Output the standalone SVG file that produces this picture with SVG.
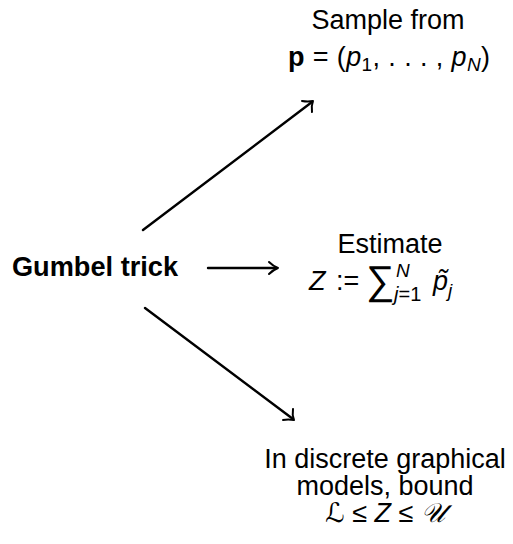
<svg xmlns="http://www.w3.org/2000/svg" width="513" height="544" viewBox="0 0 513 544">
<style>
text{font-family:"Liberation Sans",Arial,sans-serif;font-size:27px;fill:#000}
.m{font-style:italic}
.b{font-weight:bold}
.s{font-size:19px}
.s2{font-size:20px}
.c{text-anchor:middle}
.sum{font-size:40px}
.cal{font-family:"DejaVu Sans","Liberation Sans",sans-serif;font-style:italic}
.ln{stroke:#000;stroke-width:2.4;fill:none;stroke-linecap:round}
.hd{stroke:#000;stroke-width:2;fill:none;stroke-linecap:round;stroke-linejoin:round}
</style>
<rect width="513" height="544" fill="#fff"/>
<g id="gumbel"><text x="12" y="276" class="b" textLength="166" lengthAdjust="spacingAndGlyphs">Gumbel trick</text></g>
<g id="sample">
<text x="388" y="29" class="c">Sample from</text>
<text x="288" y="66" textLength="202" lengthAdjust="spacing"><tspan class="b">p</tspan> = (<tspan class="m">p</tspan><tspan class="s" dy="5">1</tspan><tspan dy="-5">, . . . , </tspan><tspan class="m">p</tspan><tspan class="s m" dy="5">N</tspan><tspan dy="-5">)</tspan></text>
</g>
<g id="estimate">
<text x="390" y="253" class="c">Estimate</text>
<text x="309" y="290" class="m">Z</text>
<text x="336" y="290">:=</text>
<text x="366" y="294" class="sum">∑</text>
<text x="396" y="277" class="s m">N</text>
<text x="394" y="301" class="s2"><tspan class="m">j</tspan>=1</text>
<text x="433" y="290" class="m">p̃</text>
<text x="448" y="297" class="s m">j</text>
</g>
<g id="bound">
<text x="385" y="468" class="c">In discrete graphical</text>
<text x="385" y="495" class="c">models, bound</text>
<text x="385" y="522" class="c"><tspan class="cal">ℒ</tspan> ≤ <tspan class="m">Z</tspan> ≤ <tspan class="cal">𝒰</tspan></text>
</g>
<g id="connectors">
<line class="ln" x1="143" y1="230" x2="312" y2="102"/>
<path class="hd" d="M302,101 Q308,102 313,101 Q311,106 312,112"/>
<line class="ln" x1="208" y1="268" x2="276" y2="268"/>
<path class="hd" d="M269,262 Q273,266 278,268 Q273,270 269,274"/>
<line class="ln" x1="145" y1="308" x2="293" y2="419"/>
<path class="hd" d="M293,409 Q292,415 294,420 Q288,419 283,420"/>
</g>
</svg>
